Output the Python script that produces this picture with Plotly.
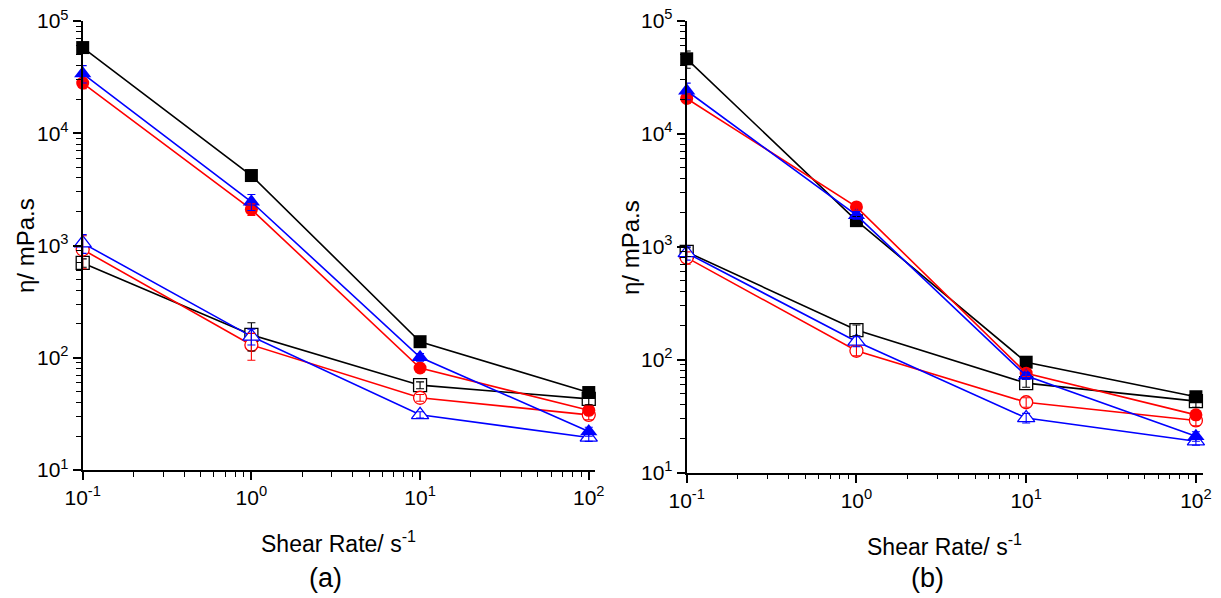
import plotly.graph_objects as go

shear_rate = [0.1, 1, 10, 100]

# Panel (a)
a_filled_sq = [58000, 4200, 139, 49]
a_filled_tri = [34000, 2450, 101, 22]
a_filled_circ = [28000, 2100, 81, 34]
a_open_sq = [700, 160, 57, 43]
a_open_circ = [920, 130, 44, 31]
a_open_tri = [1050, 155, 31, 19.5]

a_filled_sq_err = [5000, 300, 8, 4]
a_filled_tri_err = [6000, 400, 8, 2]
a_filled_circ_err = [3000, 250, 6, 3]
a_open_sq_err = [60, 45, 4, 5]
a_open_circ_err = [300, 35, 3, 3]
a_open_tri_err = [200, 25, 2, 1.5]

# Panel (b)
b_filled_sq = [46000, 1700, 95, 47]
b_filled_tri = [24000, 1900, 72, 21]
b_filled_circ = [20500, 2250, 76, 32.5]
b_open_sq = [900, 183, 62, 43]
b_open_circ = [800, 120, 42, 29]
b_open_tri = [880, 145, 30.5, 19]

b_filled_sq_err = [8000, 150, 6, 4]
b_filled_tri_err = [4000, 150, 5, 2]
b_filled_circ_err = [2000, 150, 5, 3]
b_open_sq_err = [80, 20, 5, 5]
b_open_circ_err = [100, 12, 4, 3]
b_open_tri_err = [120, 15, 3, 1.5]

y_tick_vals = [10, 100, 1000, 10000, 100000]
y_tick_text = ["10<sup>1</sup>", "10<sup>2</sup>", "10<sup>3</sup>", "10<sup>4</sup>", "10<sup>5</sup>"]
x_tick_vals = [0.1, 1, 10, 100]
x_tick_text = ["10<sup>-1</sup>", "10<sup>0</sup>", "10<sup>1</sup>", "10<sup>2</sup>"]

FONT = "Liberation Sans, Arial, sans-serif"

# page has an 8px body margin; size the figure to the visible area
OFF = 8
W, H = 1221 - OFF, 598 - OFF


def px(x):
    return (x - OFF) / W


def py(y):
    return (H - (y - OFF)) / H


fig = go.Figure()

panels = [
    ("x", "y", [
        (a_open_sq, a_open_sq_err, "black", "square", False),
        (a_open_circ, a_open_circ_err, "red", "circle", False),
        (a_open_tri, a_open_tri_err, "blue", "triangle-up", False),
        (a_filled_sq, a_filled_sq_err, "black", "square", True),
        (a_filled_circ, a_filled_circ_err, "red", "circle", True),
        (a_filled_tri, a_filled_tri_err, "blue", "triangle-up", True),
    ]),
    ("x2", "y2", [
        (b_open_sq, b_open_sq_err, "black", "square", False),
        (b_open_circ, b_open_circ_err, "red", "circle", False),
        (b_open_tri, b_open_tri_err, "blue", "triangle-up", False),
        (b_filled_sq, b_filled_sq_err, "black", "square", True),
        (b_filled_circ, b_filled_circ_err, "red", "circle", True),
        (b_filled_tri, b_filled_tri_err, "blue", "triangle-up", True),
    ]),
]

for xa, ya, data in panels:
    for y, err, color, symbol, filled in data:
        size = 15 if symbol == "triangle-up" else 13
        fig.add_trace(go.Scatter(
            x=shear_rate, y=y, mode="lines+markers",
            line=dict(color=color, width=1.6),
            marker=dict(symbol=symbol, size=size, color=color if filled else "white",
                        line=dict(color=color, width=0 if filled else 1.3)),
            xaxis=xa, yaxis=ya, showlegend=False, cliponaxis=False,
        ))

for xa, ya, data in panels:
    for y, err, color, symbol, filled in data:
        fig.add_trace(go.Scatter(
            x=shear_rate, y=y, mode="markers",
            marker=dict(size=1, opacity=0),
            error_y=dict(type="data", array=err, visible=True, color=color, thickness=1.1, width=4),
            xaxis=xa, yaxis=ya, showlegend=False, cliponaxis=False, hoverinfo="skip",
        ))

axis_common = dict(
    showline=True, linecolor="black", linewidth=2, mirror=False,
    ticks="outside", ticklen=8, tickwidth=1.5, tickcolor="black",
    showgrid=False, zeroline=False, automargin=False, ticklabeloverflow="allow",
    tickfont=dict(family=FONT, size=21, color="black"),
    minor=dict(ticks="outside", ticklen=4.5, tickwidth=1.2, tickcolor="black", showgrid=False, dtick="D1"),
)

fig.update_layout(
    width=W, height=H,
    margin=dict(l=0, r=0, t=0, b=0, autoexpand=False),
    paper_bgcolor="white", plot_bgcolor="white",
    font=dict(family=FONT, color="black"),
    xaxis=dict(type="log", range=[-1, 2.037], domain=[px(82.7), px(595)], anchor="y",
               tickvals=x_tick_vals, ticktext=x_tick_text, **axis_common),
    yaxis=dict(type="log", range=[1, 5], domain=[py(470), py(21)], anchor="x",
               tickvals=y_tick_vals, ticktext=y_tick_text, **axis_common),
    xaxis2=dict(type="log", range=[-1, 2.04], domain=[px(686.7), px(1202.7)], anchor="y2",
                tickvals=x_tick_vals, ticktext=x_tick_text, **axis_common),
    yaxis2=dict(type="log", range=[1, 5], domain=[py(472.7), py(20.7)], anchor="x2",
                tickvals=y_tick_vals, ticktext=y_tick_text, **axis_common),
)

annots = [
    dict(text="Shear Rate/ s<sup>-1</sup>", x=338, y=542, size=23),
    dict(text="Shear Rate/ s<sup>-1</sup>", x=944, y=545, size=23),
    dict(text="(a)", x=325, y=578, size=27),
    dict(text="(b)", x=927, y=578, size=27),
]
for a in annots:
    fig.add_annotation(text=a["text"], x=px(a["x"]), y=py(a["y"]), xref="paper", yref="paper",
                       showarrow=False, xanchor="center", yanchor="middle",
                       font=dict(family=FONT, size=a["size"], color="black"))

for xpos, ypos in [(26, 246), (630, 248)]:
    fig.add_annotation(text="η/ mPa.s", x=px(xpos), y=py(ypos), xref="paper", yref="paper",
                       showarrow=False, textangle=-90, xanchor="center", yanchor="middle",
                       font=dict(family=FONT, size=24, color="black"))

fig.write_html("out.html")
